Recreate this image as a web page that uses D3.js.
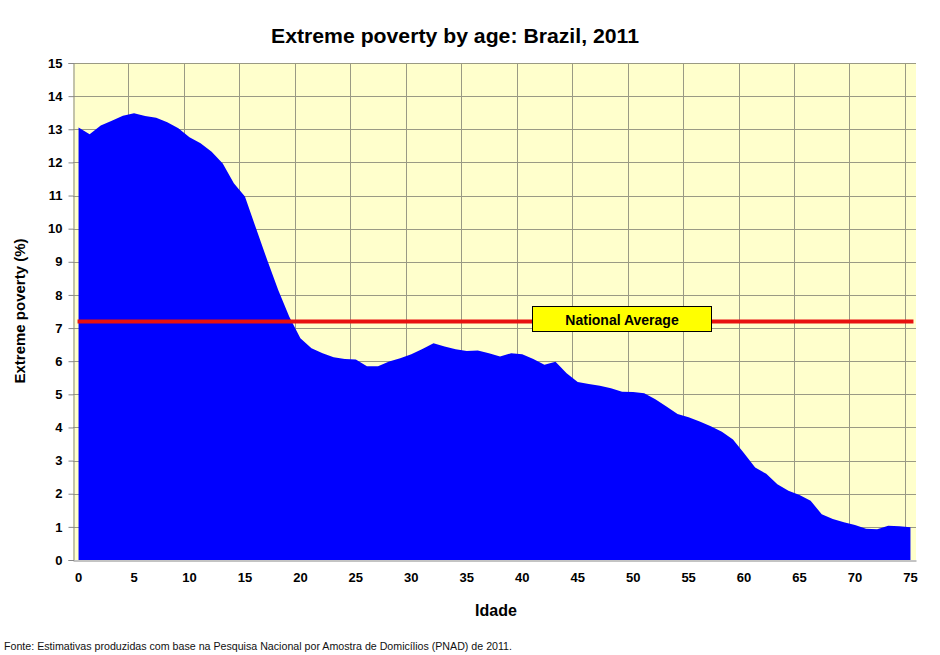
<!DOCTYPE html>
<html>
<head>
<meta charset="utf-8">
<script src="https://cdn.jsdelivr.net/npm/d3@7"></script>
<style>
body { margin: 0; background: #fff; }
text { font-family: "Liberation Sans", Arial, sans-serif; }
</style>
</head>
<body>
<script>
// data
var ages = d3.range(0, 76)
var poverty = [13.05, 12.85, 13.11, 13.26, 13.41, 13.48, 13.40, 13.35, 13.21, 13.03,
               12.76, 12.58, 12.32, 11.97, 11.37, 10.97, 10.01, 9.06, 8.15, 7.34,
               6.69, 6.39, 6.24, 6.12, 6.07, 6.05, 5.85, 5.85, 5.99, 6.09,
               6.21, 6.37, 6.54, 6.44, 6.36, 6.31, 6.32, 6.24, 6.14, 6.24,
               6.21, 6.07, 5.89, 5.98, 5.64, 5.37, 5.31, 5.26, 5.18, 5.08,
               5.07, 5.03, 4.85, 4.63, 4.41, 4.31, 4.18, 4.04, 3.87, 3.64,
               3.22, 2.79, 2.60, 2.29, 2.09, 1.96, 1.79, 1.38, 1.24, 1.14,
               1.06, 0.94, 0.93, 1.03, 1.02, 0.99]
var nationalAverage = 7.2
var yTicks = d3.range(0, 16)
var xTicks = [0, 5, 10, 15, 20, 25, 30, 35, 40, 45, 50, 55, 60, 65, 70, 75]

var width = 940
var height = 655
var plotLeft = 73, plotRight = 916, plotTop = 63, plotBottom = 560

var svg = d3.select('body')
            .append('svg')
            .attr('width', width)
            .attr('height', height)

var x = d3.scaleBand()
          .domain(ages)
          .range([plotLeft, plotRight])
          .padding(0)
var y = d3.scaleLinear()
          .domain([0, 15])
          .range([plotBottom, plotTop])

function cx(a) { return x(a) + x.bandwidth() / 2 }

// plot background
svg.append('rect')
   .attr('x', plotLeft)
   .attr('y', plotTop)
   .attr('width', plotRight - plotLeft)
   .attr('height', plotBottom - plotTop)
   .attr('fill', '#ffffcc')

// horizontal grid
svg.selectAll('.hgrid')
   .data(yTicks.slice(1))
   .enter().append('line')
   .attr('x1', plotLeft)
   .attr('x2', plotRight)
   .attr('y1', function(d){ return Math.round(y(d)) + 0.5 })
   .attr('y2', function(d){ return Math.round(y(d)) + 0.5 })
   .attr('stroke', '#9a9a84')
   .attr('stroke-width', 1)

// vertical grid, between categories every 5 ages
svg.selectAll('.vgrid')
   .data(xTicks.slice(1))
   .enter().append('line')
   .attr('x1', function(d){ return Math.round(x(d)) + 0.5 })
   .attr('x2', function(d){ return Math.round(x(d)) + 0.5 })
   .attr('y1', plotTop)
   .attr('y2', plotBottom)
   .attr('stroke', '#9a9a84')
   .attr('stroke-width', 1)

// area
var area = d3.area()
             .x(function(d, i){ return cx(ages[i]) })
             .y0(y(0))
             .y1(function(d){ return y(d) })
svg.append('path')
   .datum(poverty)
   .attr('d', area)
   .attr('fill', '#0000ff')

// national average line
svg.append('line')
   .attr('x1', cx(0) - 1)
   .attr('x2', cx(75) + 3)
   .attr('y1', y(nationalAverage))
   .attr('y2', y(nationalAverage))
   .attr('stroke', '#e81010')
   .attr('stroke-width', 4)

svg.append('rect')
   .attr('x', 532.5)
   .attr('y', 306.5)
   .attr('width', 179)
   .attr('height', 25)
   .attr('fill', '#ffff00')
   .attr('stroke', '#000')
   .attr('stroke-width', 1)
svg.append('text')
   .attr('x', 622)
   .attr('y', 325)
   .attr('text-anchor', 'middle')
   .attr('font-size', '14px')
   .attr('font-weight', 'bold')
   .text('National Average')

// axes
var yAxis = d3.axisLeft(y).tickValues(yTicks).tickSize(5).tickPadding(6)
var gy = svg.append('g')
            .attr('transform', 'translate(' + (plotLeft + 0.5) + ',0)')
            .call(yAxis)
gy.select('.domain').attr('stroke', '#888')
gy.selectAll('.tick line').attr('stroke', '#888')
gy.selectAll('text')
  .attr('font-size', '13px')
  .attr('font-weight', 'bold')
  .attr('fill', '#000')
  .attr('font-family', '"Liberation Sans", Arial, sans-serif')

var xAxis = d3.axisBottom(x).tickValues(xTicks).tickSize(0).tickPadding(12)
var gx = svg.append('g')
            .attr('transform', 'translate(0,' + (plotBottom + 0.5) + ')')
            .call(xAxis)
gx.select('.domain').attr('stroke', '#888')
gx.selectAll('text')
  .attr('font-size', '13px')
  .attr('font-weight', 'bold')
  .attr('fill', '#000')
  .attr('font-family', '"Liberation Sans", Arial, sans-serif')

// titles
svg.append('text')
   .attr('x', 455)
   .attr('y', 43)
   .attr('text-anchor', 'middle')
   .attr('font-size', '20px')
   .attr('font-weight', 'bold')
   .attr('textLength', 368)
   .attr('lengthAdjust', 'spacingAndGlyphs')
   .text('Extreme poverty by age: Brazil, 2011')

svg.append('text')
   .attr('transform', 'translate(25,311) rotate(-90)')
   .attr('text-anchor', 'middle')
   .attr('font-size', '15px')
   .attr('font-weight', 'bold')
   .text('Extreme poverty  (%)')

svg.append('text')
   .attr('x', 496)
   .attr('y', 616)
   .attr('text-anchor', 'middle')
   .attr('font-size', '16px')
   .attr('font-weight', 'bold')
   .text('Idade')

svg.append('text')
   .attr('x', 4)
   .attr('y', 650)
   .attr('font-size', '11px')
   .attr('fill', '#111')
   .attr('textLength', 508)
   .attr('lengthAdjust', 'spacingAndGlyphs')
   .text('Fonte: Estimativas  produzidas com base na Pesquisa Nacional por Amostra de Domicílios  (PNAD) de 2011.')
</script>
</body>
</html>
